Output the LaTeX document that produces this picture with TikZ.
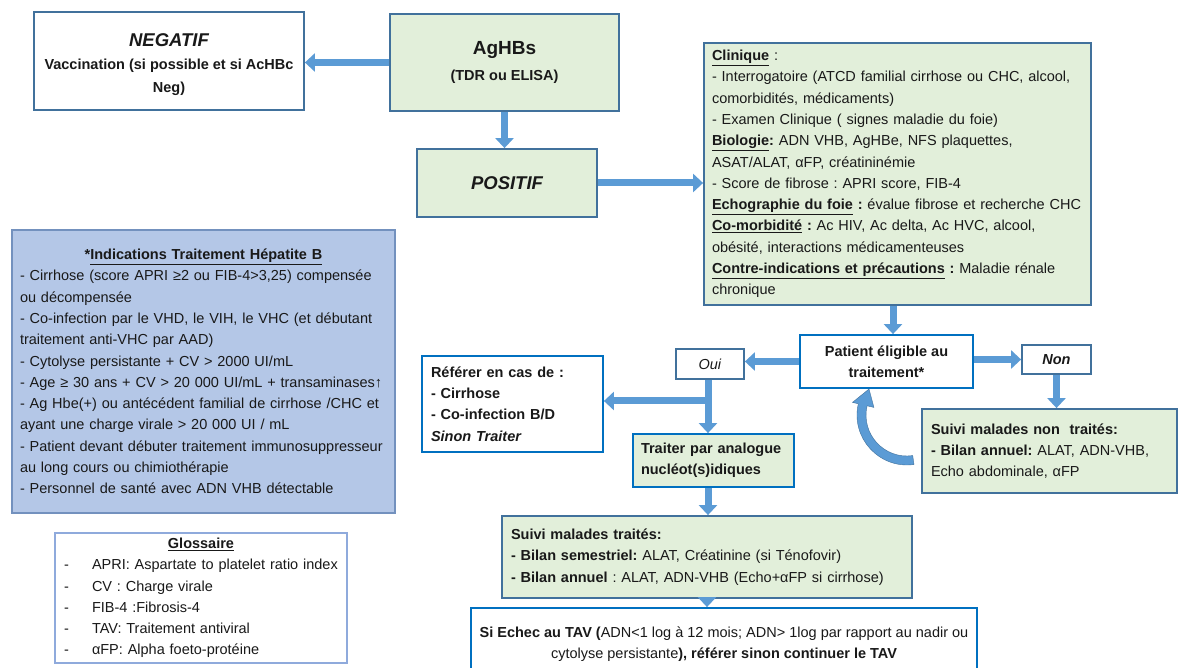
\documentclass[tikz,border=0pt]{standalone}
\usepackage{fontspec}
\setmainfont{Liberation Sans}
\usetikzlibrary{arrows.meta}

\definecolor{steel}{RGB}{65,113,156}
\definecolor{vivid}{RGB}{0,112,192}
\definecolor{arrowblue}{RGB}{91,155,213}
\definecolor{palegreen}{RGB}{226,239,218}
\definecolor{lightblue}{RGB}{180,199,231}
\definecolor{panelborder}{RGB}{115,145,190}
\definecolor{lightborder}{RGB}{143,170,220}
\definecolor{ink}{RGB}{25,25,25}

\begin{document}
\frenchspacing
\hyphenpenalty=10000
\begin{tikzpicture}[x=1pt,y=-1pt,
  every node/.style={text=ink, font={\fontsize{14.5}{21.3}\selectfont\frenchspacing}, inner ysep=0pt},
  panel/.style={draw, line width=1.8pt, inner xsep=9pt},
  steelbox/.style={panel, draw=steel},
  vividbox/.style={panel, draw=vivid},
  flow/.style={draw=arrowblue, line width=7pt,
    -{Triangle[length=10pt,width=18pt]}},
]
\useasboundingbox (0,0) rectangle (1179,668);
\fill[white] (0,0) rectangle (1179,668);
\clip (0,0) rectangle (1179,668);

% ---------- screening ----------
\node[steelbox, fill=white, minimum width=270, minimum height=98, align=center]
  (neg) at (169,61)
  {\rule{0pt}{20pt}{\fontsize{18.5}{22}\selectfont\bfseries\itshape NEGATIF}\\[2pt]
   \textbf{Vaccination (si possible et si AcHBc}\\[1pt]
   \textbf{Neg)}};

\node[steelbox, fill=palegreen, minimum width=229, minimum height=97, align=center]
  (aghbs) at (504.5,62.5)
  {{\fontsize{19}{22}\selectfont\bfseries AgHBs}\\[4pt]
   \textbf{(TDR ou ELISA)}};

\node[steelbox, fill=palegreen, minimum width=180, minimum height=68]
  (pos) at (507,183)
  {\fontsize{18.5}{22}\selectfont\bfseries\itshape POSITIF};

% ---------- work-up ----------
\node[steelbox, fill=palegreen, minimum width=387, minimum height=262,
      inner xsep=8pt, text width=371, align=left]
  (clin) at (897.5,174)
  {\textbf{\underline{Clinique}} :\\
   - Interrogatoire (ATCD familial cirrhose ou CHC, alcool,\\
   comorbidités, médicaments)\\
   - Examen Clinique ( signes maladie du foie)\\
   \textbf{\underline{Biologie}:} ADN VHB, AgHBe, NFS plaquettes,\\
   ASAT/ALAT, αFP, créatininémie\\
   - Score de fibrose : APRI score, FIB-4\\
   \textbf{\underline{Echographie du foie} :} évalue fibrose et recherche CHC\\
   \textbf{\underline{Co-morbidité} :} Ac HIV, Ac delta, Ac HVC, alcool,\\
   obésité, interactions médicamenteuses\\
   \textbf{\underline{Contre-indications et précautions} :} Maladie rénale\\
   chronique};

% ---------- decision ----------
\node[vividbox, fill=white, minimum width=173, minimum height=53, align=center]
  (elig) at (886.5,361.5)
  {\textbf{Patient éligible au}\\ \textbf{traitement*}};

\node[steelbox, fill=white, minimum width=69, minimum height=29]
  (non) at (1056.5,359.5) {\textbf{\textit{Non}}};

\node[steelbox, fill=white, minimum width=68, minimum height=30]
  (oui) at (710,364) {\textit{Oui}};

\node[steelbox, fill=palegreen, minimum width=255, minimum height=84,
      text width=237, align=left]
  (snt) at (1049.5,451)
  {\textbf{Suivi malades non\ \ traités:}\\
   \textbf{- Bilan annuel:} ALAT, ADN-VHB,\\
   Echo abdominale, αFP};

\node[vividbox, fill=white, minimum width=181, minimum height=96,
      text width=163, align=left]
  (ref) at (512.5,404)
  {\textbf{Référer en cas de :}\\
   \textbf{- Cirrhose}\\
   \textbf{- Co-infection B/D}\\
   \textbf{\textit{Sinon Traiter}}};

\node[vividbox, fill=palegreen, minimum width=161, minimum height=53,
      inner xsep=8pt, text width=145, align=left]
  (trt) at (713.5,460.5)
  {\textbf{Traiter par analogue}\\
   \textbf{nucléot(s)idiques}};

\node[steelbox, fill=palegreen, minimum width=410, minimum height=82,
      text width=392, align=left]
  (st) at (707,557)
  {\textbf{Suivi malades traités:}\\
   \textbf{- Bilan semestriel:} ALAT, Créatinine (si Ténofovir)\\
   \textbf{- Bilan annuel} : ALAT, ADN-VHB (Echo+αFP si cirrhose)};

\node[vividbox, fill=white, minimum width=462, minimum height=72, align=center]
  (echec) at (724,644)
  {\textbf{Si Echec au TAV (}ADN<1 log à 12 mois; ADN> 1log par rapport au nadir ou\\
   cytolyse persistante\textbf{), référer sinon continuer le TAV}};

% ---------- side panels ----------
\node[draw=panelborder, line width=1.5pt, fill=lightblue, inner xsep=8pt,
      minimum width=383, minimum height=283, text width=367, align=left]
  (indic) at (203.5,371.5)
  {\makebox[\linewidth][c]{\textbf{*\underline{Indications Traitement Hépatite B}}}\\
   - Cirrhose (score APRI ≥2 ou FIB-4>3,25) compensée\\
   ou décompensée\\
   - Co-infection par le VHD, le VIH, le VHC (et débutant\\
   traitement anti-VHC par AAD)\\
   - Cytolyse persistante + CV > 2000 UI/mL\\
   - Age ≥ 30 ans + CV > 20 000 UI/mL + transaminases↑\\
   - Ag Hbe(+) ou antécédent familial de cirrhose /CHC et\\
   ayant une charge virale > 20 000 UI / mL\\
   - Patient devant débuter traitement immunosuppresseur\\
   au long cours ou chimiothérapie\\
   - Personnel de santé avec ADN VHB détectable};

\node[draw=lightborder, line width=1.2pt, fill=white, inner xsep=9pt,
      minimum width=292, minimum height=130, text width=274, align=left]
  (gloss) at (201,598)
  {\makebox[\linewidth][c]{\textbf{\underline{Glossaire}}}\\
   \makebox[28pt][l]{-}APRI: Aspartate to platelet ratio index\\
   \makebox[28pt][l]{-}CV : Charge virale\\
   \makebox[28pt][l]{-}FIB-4 :Fibrosis-4\\
   \makebox[28pt][l]{-}TAV: Traitement antiviral\\
   \makebox[28pt][l]{-}αFP: Alpha foeto-protéine};

% ---------- connectors ----------
\draw[flow] (aghbs.west) -- (aghbs.west -| neg.east);
\draw[flow] (aghbs.south) -- (aghbs.south |- pos.north);
\draw[flow] (pos.east) -- (pos.east -| clin.west);
\draw[flow] ([xshift=-4.5pt]clin.south) -- ([xshift=-4.5pt]clin.south |- elig.north);
\draw[flow] (elig.east |- non.west) -- (non.west);
\draw[flow] (non.south) -- (non.south |- snt.north);
\draw[flow] (elig.west) -- (elig.west -| oui.east);
\draw[flow] ([xshift=-2pt]oui.south) -- ([xshift=-2pt]oui.south |- trt.north);
\draw[flow] ([xshift=-2pt,yshift=3pt]oui.south |- ref.east) -- ([yshift=3pt]ref.east);
\draw[flow] ([xshift=-2pt]oui.south |- trt.south) -- ([xshift=-2pt]oui.south |- st.north);
\draw[flow] (st.south) -- (st.south |- echec.north);

% curved return arrow from the untreated follow-up back to eligibility
\filldraw[fill=arrowblue, draw=steel, line width=0.4pt]
  (912.7,455.6) -- (914,464.5)
  .. controls (879.3,469.4) and (850.4,437.8) .. (858.3,403.75)
  -- (852.5,402.4) -- (869,389) -- (873.9,407.4) -- (867.1,405.8)
  .. controls (860.6,433.9) and (884.2,459.6) .. (912.7,455.6) -- cycle;
\end{tikzpicture}
\end{document}
